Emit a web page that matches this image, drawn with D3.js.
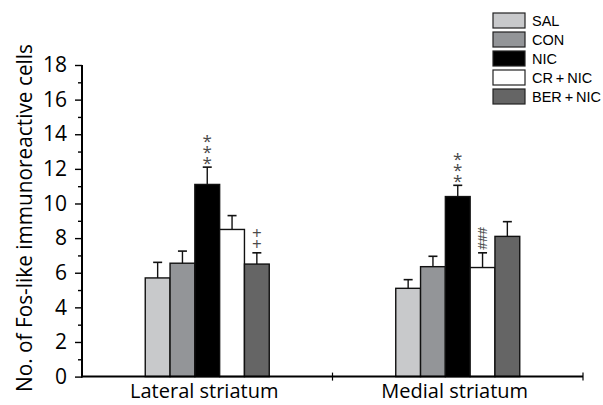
<!DOCTYPE html>
<html>
<head>
<meta charset="utf-8">
<script src="https://cdn.jsdelivr.net/npm/d3@7"></script>
<style>
  body { margin: 0; background: #fff; }
  text { font-family: "Open Sans", "Noto Sans", sans-serif; }
  .legend text { font-family: "Liberation Sans", Arial, sans-serif; }
</style>
</head>
<body>
<svg id="mainsvg" width="603" height="405"></svg>
<script>
// data
const regions = ['Lateral striatum', 'Medial striatum'];
const groups = ['SAL', 'CON', 'NIC', 'CR\u2009+\u2009NIC', 'BER\u2009+\u2009NIC'];
const lateralMeans = [5.7, 6.55, 11.1, 8.5, 6.5];
const lateralErr = [0.9, 0.7, 1.0, 0.8, 0.65];
const medialMeans = [5.1, 6.35, 10.4, 6.3, 8.1];
const medialErr = [0.5, 0.6, 0.65, 0.85, 0.85];
const majorTicks = [0, 2, 4, 6, 8, 10, 12, 14, 16, 18];
const minorTicks = [1, 3, 5, 7, 9, 11, 13, 15, 17];
// significance marks: region, group index, symbol string
const marks = [
  {region: 'Lateral striatum', g: 2, sym: '***'},
  {region: 'Lateral striatum', g: 4, sym: '++'},
  {region: 'Medial striatum', g: 2, sym: '***'},
  {region: 'Medial striatum', g: 3, sym: '###'}
];

const colors = ['#c8c9cb', '#939598', '#000000', '#ffffff', '#656565'];

const svg = d3.select('#mainsvg');
const margin = {top: 65, left: 82, right: 20, bottom: 28};
const chart = svg.append('g').attr('transform', `translate(${margin.left},${margin.top})`);

const means = {'Lateral striatum': lateralMeans, 'Medial striatum': medialMeans};
const errs = {'Lateral striatum': lateralErr, 'Medial striatum': medialErr};

const x0 = d3.scaleBand().domain(regions).range([0, 501]);
const bw = x0.bandwidth();
const x1 = d3.scaleBand().domain(groups).range([bw / 2 - 62, bw / 2 + 62]);
const y = d3.scaleLinear().domain([0, 18]).range([311.6, 0]);

const rows = [];
regions.forEach(r => groups.forEach((g, i) => rows.push({region: r, group: g, i: i, v: means[r][i], e: errs[r][i]})));

// bars
chart.selectAll('.bar').data(rows).enter().append('rect')
  .attr('class', 'bar')
  .attr('x', d => x0(d.region) + x1(d.group))
  .attr('y', d => y(d.v))
  .attr('width', x1.bandwidth())
  .attr('height', d => y(0) - y(d.v))
  .attr('fill', d => colors[d.i])
  .attr('stroke', '#111')
  .attr('stroke-width', 1.4);

// error bars (upper only)
const eb = chart.selectAll('.err').data(rows).enter().append('g').attr('class', 'err')
  .attr('transform', d => `translate(${x0(d.region) + x1(d.group) + x1.bandwidth() / 2},0)`);
eb.append('line').attr('x1', 0).attr('x2', 0)
  .attr('y1', d => y(d.v)).attr('y2', d => y(d.v + d.e))
  .attr('stroke', '#111').attr('stroke-width', 1.4);
eb.append('line').attr('x1', -4.5).attr('x2', 4.5)
  .attr('y1', d => y(d.v + d.e)).attr('y2', d => y(d.v + d.e))
  .attr('stroke', '#111').attr('stroke-width', 1.6);

// significance symbols stacked above the caps
const symStyle = {
  '*': {size: 17, gap: 11, first: 9, dy: '0.62em', rot: 0},
  '+': {size: 17, gap: 11.3, first: 8.5, dy: '0.35em', rot: 0},
  '#': {size: 13, gap: 7.5, first: 7, dy: '0.35em', rot: -90}
};
marks.forEach(m => {
  const i = m.g;
  const cx = x0(m.region) + x1(groups[i]) + x1.bandwidth() / 2;
  const top = y(means[m.region][i] + errs[m.region][i]);
  const st = symStyle[m.sym[0]];
  m.sym.split('').forEach((c, k) => {
    chart.append('text')
      .attr('transform', `translate(${cx},${top - st.first - k * st.gap}) rotate(${st.rot})`)
      .attr('text-anchor', 'middle')
      .attr('dy', st.dy)
      .attr('fill', '#4a4a4a')
      .style('font-size', st.size + 'px')
      .text(c);
  });
});

// y axis
const yAxis = chart.append('g')
  .call(d3.axisLeft(y).tickValues(majorTicks).tickSize(7).tickPadding(8).tickFormat(d3.format('d')));
yAxis.select('.domain').attr('stroke-width', 2).attr('d', `M0,${y(18)}V${y(0) + 1}`);
yAxis.selectAll('.tick line').attr('stroke-width', 1.4);
yAxis.selectAll('.tick text').style('font-size', '21px').attr('fill', '#000');
const yMinor = chart.append('g')
  .call(d3.axisLeft(y).tickValues(minorTicks).tickSize(4).tickFormat(''));
yMinor.select('.domain').remove();
yMinor.selectAll('.tick line').attr('stroke-width', 1.4);

// x axis
const xAxis = chart.append('g').attr('transform', `translate(0,${y(0)})`);
xAxis.append('line').attr('x1', -1).attr('x2', 501).attr('stroke', '#000').attr('stroke-width', 2);
xAxis.selectAll('.xt').data(regions).enter().append('line')
  .attr('x1', d => x0(d) + bw).attr('x2', d => x0(d) + bw)
  .attr('y1', -4).attr('y2', 4)
  .attr('stroke', '#000').attr('stroke-width', 1.2);
xAxis.selectAll('.xl').data(regions).enter().append('text')
  .attr('x', d => x0(d) + bw / 2 - 3)
  .attr('y', 21.5)
  .attr('text-anchor', 'middle')
  .style('font-size', '20px')
  .text(d => d);

// y label
svg.append('text')
  .attr('transform', `translate(23,${margin.top + 153}) rotate(-90)`)
  .attr('text-anchor', 'middle')
  .attr('dominant-baseline', 'central')
  .style('font-size', '22px')
  .attr('textLength', 348)
  .attr('lengthAdjust', 'spacingAndGlyphs')
  .text('No. of Fos-like immunoreactive cells');

// legend
const legend = svg.append('g').attr('class', 'legend').attr('transform', 'translate(493,13)');
const li = legend.selectAll('.li').data(groups).enter().append('g')
  .attr('transform', (d, i) => `translate(0,${i * 19})`);
li.append('rect').attr('width', 32).attr('height', 15)
  .attr('fill', (d, i) => colors[i]).attr('stroke', '#222').attr('stroke-width', 1.2);
li.append('text').attr('x', 39).attr('y', 7.5)
  .attr('dy', '0.36em')
  .style('font-size', '14.5px')
  .text(d => d);
</script>
</body>
</html>
